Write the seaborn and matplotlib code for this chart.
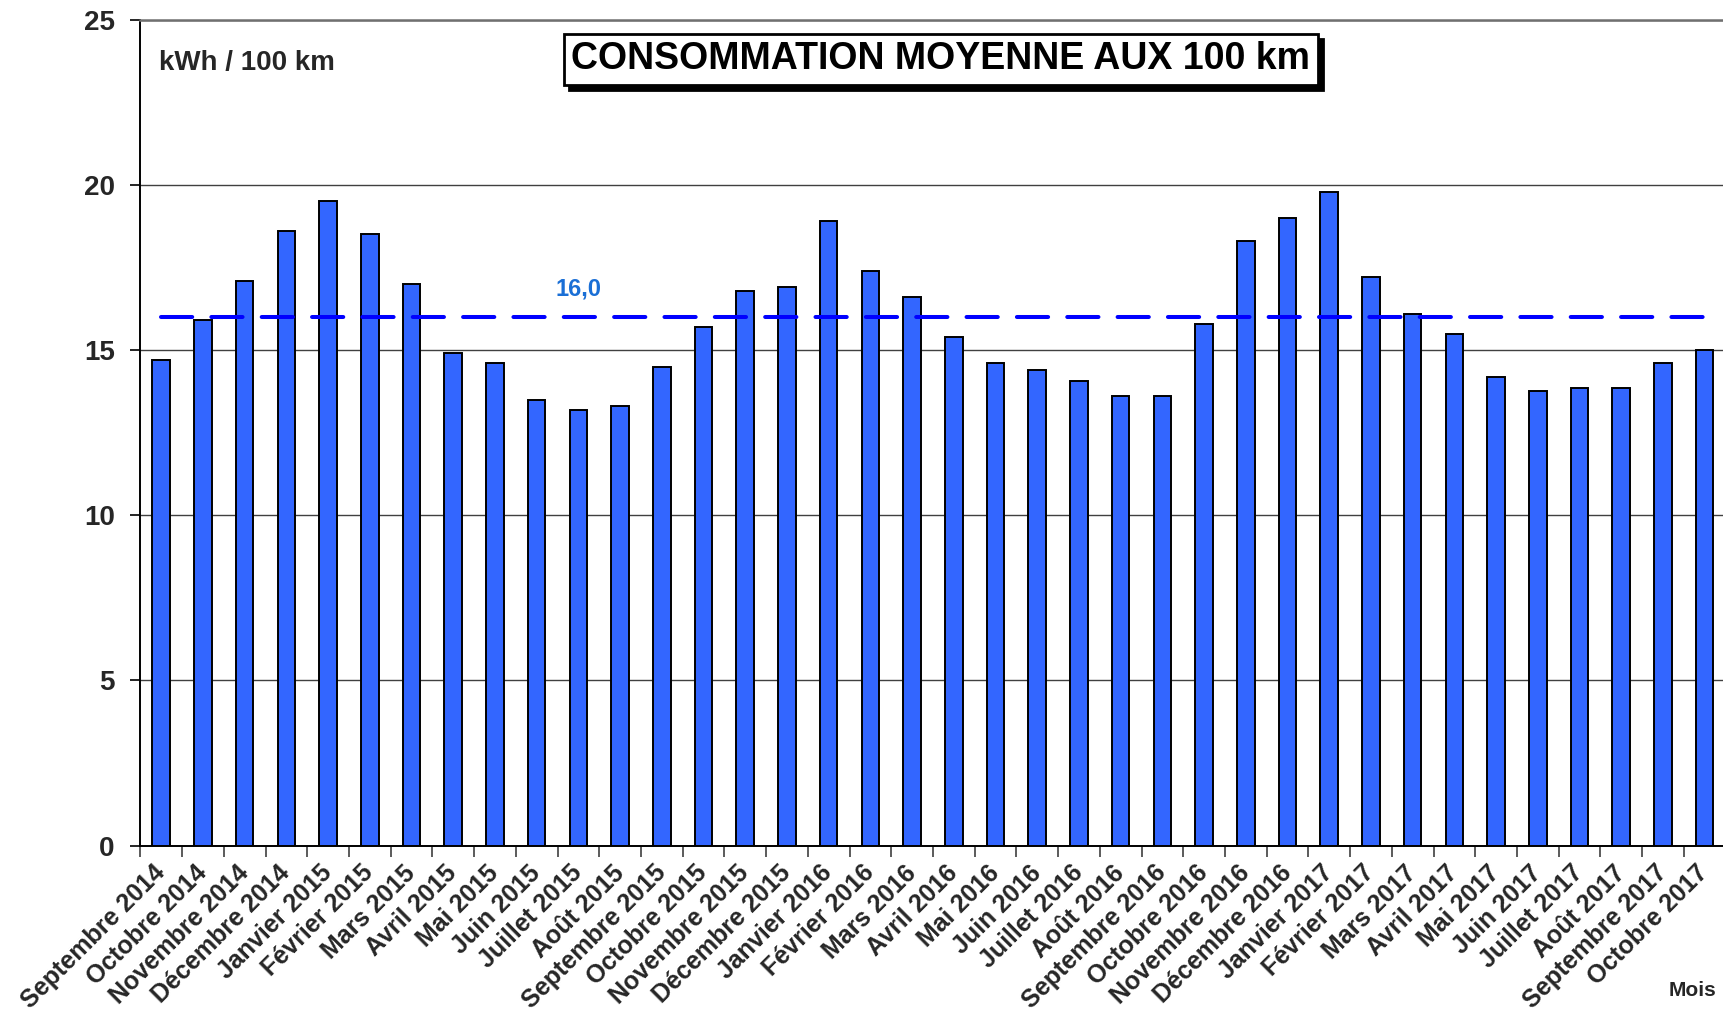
import numpy as np
import matplotlib
matplotlib.use("Agg")
import matplotlib.pyplot as plt
import matplotlib.transforms as mtransforms
import seaborn as sns

# %% data
mois = ["Septembre 2014", "Octobre 2014", "Novembre 2014", "Décembre 2014",
        "Janvier 2015", "Février 2015", "Mars 2015", "Avril 2015", "Mai 2015",
        "Juin 2015", "Juillet 2015", "Août 2015", "Septembre 2015", "Octobre 2015",
        "Novembre 2015", "Décembre 2015", "Janvier 2016", "Février 2016",
        "Mars 2016", "Avril 2016", "Mai 2016", "Juin 2016", "Juillet 2016",
        "Août 2016", "Septembre 2016", "Octobre 2016", "Novembre 2016",
        "Décembre 2016", "Janvier 2017", "Février 2017", "Mars 2017",
        "Avril 2017", "Mai 2017", "Juin 2017", "Juillet 2017", "Août 2017",
        "Septembre 2017", "Octobre 2017"]
conso = [14.7, 15.9, 17.1, 18.6, 19.5, 18.5, 17.0, 14.9, 14.6, 13.5, 13.2, 13.3,
         14.5, 15.7, 16.8, 16.9, 18.9, 17.4, 16.6, 15.4, 14.6, 14.4, 14.05, 13.6,
         13.6, 15.8, 18.3, 19.0, 19.8, 17.2, 16.1, 15.5, 14.2, 13.75, 13.85, 13.85,
         14.6, 15.0]
moyenne = 16.0
moyenne_label = "16,0"
y_ticks = [0, 5, 10, 15, 20, 25]

titre = "CONSOMMATION MOYENNE AUX 100 km"
unite = "kWh / 100 km"
axe_x = "Mois"

# %% style
sns.set_style("white")
plt.rcParams["font.family"] = ["Liberation Sans", "DejaVu Sans"]
plt.rcParams["font.weight"] = "bold"

W, H = 1724, 1019
fig = plt.figure(figsize=(W / 100, H / 100), dpi=100)
left, right = 140.4, 1725.5
bottom, top = 845.5, 19.8
ax = fig.add_axes([left / W, 1 - bottom / H, (right - left) / W, (bottom - top) / H])

# %% bars
sns.barplot(x=mois, y=conso, color="#3366ff", saturation=1, width=0.42,
            edgecolor="black", linewidth=1.4, ax=ax, zorder=3)

# average line (dashed)
idx = np.arange(len(mois))
sns.lineplot(x=idx, y=np.full(len(mois), moyenne), color="#0000ff",
             linewidth=2.9, linestyle=(0, (7.75, 4.75)),
             dash_capstyle="round", ax=ax, zorder=4)
ax.text(10, 16.85, moyenne_label, color="#1a6fd6", fontsize=17,
        fontweight="bold", ha="center", va="center")

# %% axes
ax.set_xlim(-0.5, len(mois) - 0.5)
ax.set_ylim(0, 25)
ax.set_yticks(y_ticks)
ax.set_yticklabels([str(t) for t in y_ticks], fontsize=20, fontweight="bold")
ax.yaxis.grid(True, color="#404040", linewidth=1.0)
ax.set_axisbelow(True)

ax.set_xticks(idx)
ax.set_xticklabels(mois, rotation=45, ha="right", va="center",
                   rotation_mode="anchor", fontsize=18, fontweight="bold")
ax.set_xticks(np.arange(len(mois) + 1) - 0.5, minor=True)
ax.tick_params(axis="x", which="major", length=0, pad=17)
ax.tick_params(axis="x", which="minor", length=8, width=1.2, color="#404040",
               direction="out", bottom=True)
ax.tick_params(axis="y", length=7.5, width=1.2, color="black", pad=11,
               direction="out", left=True)
ax.set_xlabel("")
ax.set_ylabel("")

for s in ["left", "bottom"]:
    ax.spines[s].set_color("black")
    ax.spines[s].set_linewidth(1.4)
ax.spines["top"].set_color("#707070")
ax.spines["top"].set_linewidth(1.8)
ax.spines["right"].set_visible(False)

# %% texts
fig.text(159 / W, 1 - 63 / H, unite, fontsize=20, fontweight="bold",
         ha="left", va="center")

tx, ty = 940.5 / W, 1 - 59 / H
shadow = mtransforms.offset_copy(fig.transFigure, fig=fig, x=5, y=-5, units="dots")
fig.text(tx, ty, titre, fontsize=27, fontweight="bold", ha="center", va="center",
         color=(0, 0, 0, 0), transform=shadow,
         bbox=dict(boxstyle="square,pad=0.2", fc="black", ec="black", lw=2))
fig.text(tx, ty, titre, fontsize=27, fontweight="bold", ha="center", va="center",
         color="black",
         bbox=dict(boxstyle="square,pad=0.2", fc="white", ec="black", lw=2))

fig.text(1693 / W, 1 - 990 / H, axe_x, fontsize=15, fontweight="bold",
         ha="center", va="center")

fig.savefig("out.png", dpi=100)
